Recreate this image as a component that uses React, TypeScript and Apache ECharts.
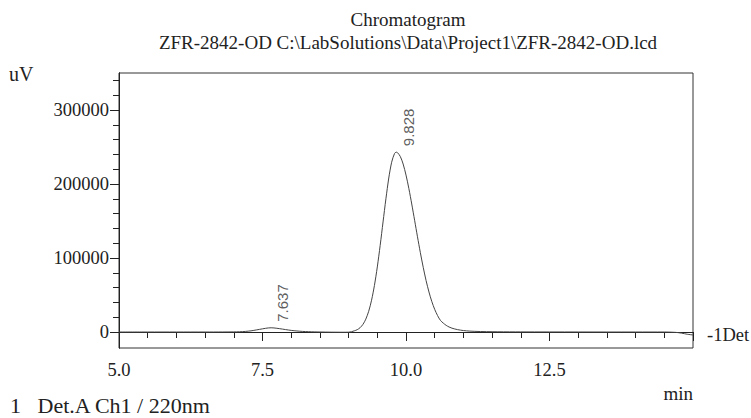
import React, { useEffect, useRef } from "react";
import * as echarts from "echarts";

const titleText = "Chromatogram";
const subTitleText = "ZFR-2842-OD C:\\LabSolutions\\Data\\Project1\\ZFR-2842-OD.lcd";
const yUnit = "uV";
const xUnit = "min";
const footerText = "1   Det.A Ch1 / 220nm";
const traceName = "-1Det";

const times = [
  5.0, 5.5, 6.0, 6.5, 6.8, 7.0, 7.1, 7.2, 7.3, 7.4, 7.5, 7.6, 7.65, 7.7, 7.8, 7.9,
  8.0, 8.1, 8.2, 8.3, 8.4, 8.5, 8.7, 8.9, 9.0, 9.05, 9.1, 9.15, 9.2, 9.25, 9.3, 9.35,
  9.4, 9.45, 9.5, 9.55, 9.6, 9.65, 9.7, 9.75, 9.8, 9.828, 9.85, 9.9, 9.95, 10.0,
  10.05, 10.1, 10.15, 10.2, 10.25, 10.3, 10.35, 10.4, 10.45, 10.5, 10.55, 10.6,
  10.65, 10.7, 10.75, 10.8, 10.9, 11.0, 11.1, 11.2, 11.4, 11.6, 12.0, 13.0, 14.0,
  14.5, 14.7, 14.8, 14.9, 15.0,
];
const signal = [
  0, 0, 0, 0, 50, 150, 350, 800, 1600, 2900, 4300, 5500, 5700, 5500, 4500, 3300,
  2200, 1400, 800, 450, 200, 50, -200, -300, -200, 400, 1620, 3150, 5840, 10330, 17420, 28000,
  43000, 62900, 87900, 117000, 148700, 180000, 208100, 229400, 241200, 243000, 242500, 237300, 227000, 212100,
  193800, 173000, 151000, 128700, 107300, 87400, 69500, 54100, 41100, 30600, 22200, 15700,
  12000, 9000, 6800, 5200, 3200, 2000, 1300, 900, 500, 300, 150, 50, 0,
  0, -500, -1500, -3000, -4000,
];

const peakTimes = [7.637, 9.828];
const peakHeights = [5700, 243000];

const yMajorTicks = [0, 100000, 200000, 300000];
const yMinorTicks = [
  20000, 40000, 60000, 80000, 120000, 140000, 160000, 180000,
  220000, 240000, 260000, 280000, 320000, 340000,
];
const xMin = 5;
const xMax = 15;
const xInterval = 2.5;
const yMin = -21600;
const yMax = 350000;

const serif = "Liberation Serif";
const sans = "Liberation Sans";

export default function App() {
  const ref = useRef<HTMLDivElement>(null);
  useEffect(() => {
    document.body.style.margin = "0";
    const chart = echarts.init(ref.current!, undefined, { renderer: "svg" });
    const lineData = times.map((t, i) => [t, signal[i]]);
    const peakData = peakTimes.map((t, i) => [t, peakHeights[i]]);
    chart.setOption({
      animation: false,
      backgroundColor: "#ffffff",
      textStyle: { fontFamily: serif },
      title: [
        {
          text: titleText,
          left: 403,
          top: 5,
          textAlign: "center",
          textStyle: { fontFamily: serif, fontSize: 19, fontWeight: "normal", color: "#222" },
        },
        {
          text: subTitleText,
          left: 403,
          top: 28,
          textAlign: "center",
          textStyle: { fontFamily: serif, fontSize: 19, fontWeight: "normal", color: "#222" },
        },
      ],
      grid: {
        left: 119,
        right: 58,
        top: 73,
        bottom: 70,
        show: true,
        borderColor: "#333",
        borderWidth: 1,
        containLabel: false,
      },
      xAxis: {
        type: "value",
        min: xMin,
        max: xMax,
        interval: xInterval,
        axisLine: { show: true, lineStyle: { color: "#222", width: 1 } },
        axisTick: { show: true, length: 9, lineStyle: { color: "#222" } },
        minorTick: { show: true, splitNumber: 5, length: 6, lineStyle: { color: "#222" } },
        axisLabel: {
          show: true,
          margin: 12,
          showMaxLabel: false,
          formatter: (v: number) => v.toFixed(1),
          fontFamily: serif,
          fontSize: 18.5,
          color: "#222",
        },
        splitLine: { show: false },
      },
      yAxis: [
        {
          type: "value",
          min: yMin,
          max: yMax,
          axisLine: { show: true, onZero: false, lineStyle: { color: "#222", width: 1 } },
          axisTick: { show: true, length: 9, customValues: yMajorTicks, lineStyle: { color: "#222" } },
          axisLabel: {
            show: true,
            customValues: yMajorTicks,
            margin: 10,
            formatter: (v: number) => String(v),
            fontFamily: serif,
            fontSize: 18.5,
            color: "#222",
          },
          splitLine: { show: false },
        },
        {
          type: "value",
          min: yMin,
          max: yMax,
          position: "left",
          axisLine: { show: true, onZero: false, lineStyle: { color: "#222", width: 1 } },
          axisTick: { show: true, length: 6, customValues: yMinorTicks, lineStyle: { color: "#222" } },
          axisLabel: { show: false },
          splitLine: { show: false },
        },
      ],
      series: [
        {
          type: "line",
          data: lineData,
          showSymbol: false,
          smooth: 0.3,
          lineStyle: { color: "#444", width: 1 },
          endLabel: {
            show: true,
            formatter: traceName,
            distance: 14,
            fontFamily: serif,
            fontSize: 18.5,
            color: "#222",
          },
          z: 2,
        },
        {
          type: "scatter",
          yAxisIndex: 1,
          data: peakData,
          symbolSize: 2,
          itemStyle: { color: "rgba(0,0,0,0)" },
          label: {
            show: true,
            position: [13, -5],
            rotate: 90,
            align: "left",
            verticalAlign: "middle",
            formatter: (p: any) => p.value[0].toFixed(3),
            fontFamily: sans,
            fontSize: 15,
            color: "#333",
          },
          z: 3,
        },
      ],
      graphic: [
        {
          type: "text",
          left: 9,
          top: 64,
          style: { text: yUnit, fontFamily: serif, fontSize: 20, fill: "#222" },
        },
        {
          type: "text",
          right: 58,
          top: 384,
          style: { text: xUnit, fontFamily: serif, fontSize: 19, fill: "#222" },
        },
        {
          type: "text",
          left: 10,
          top: 394,
          style: { text: footerText, fontFamily: serif, fontSize: 22, fill: "#222" },
        },
      ],
    });
    return () => chart.dispose();
  }, []);
  return <div ref={ref} style={{ width: 751, height: 418 }} />;
}
